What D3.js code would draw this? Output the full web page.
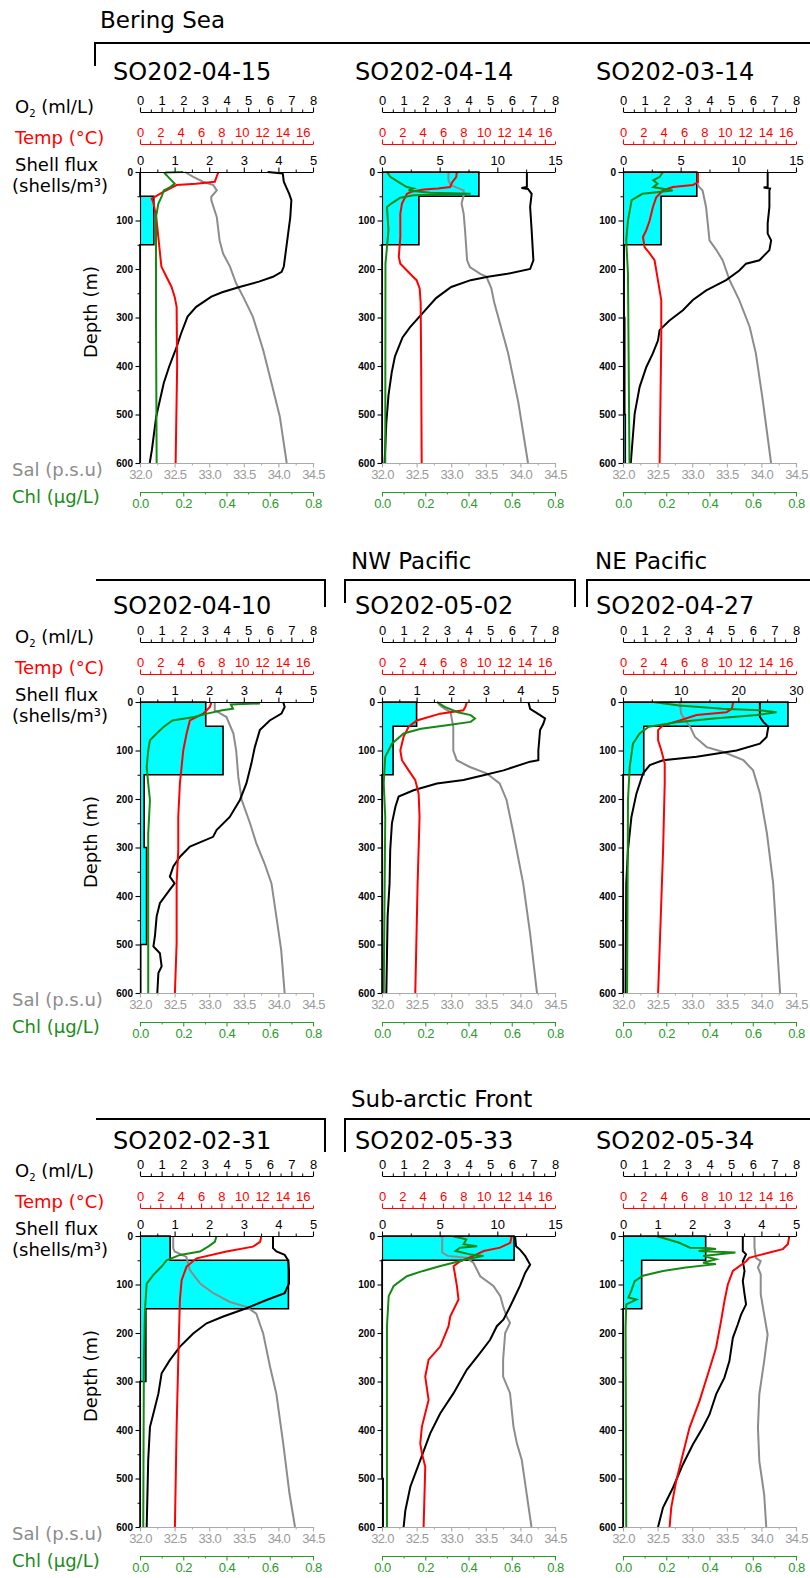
<!DOCTYPE html>
<html><head><meta charset="utf-8">
<script src="https://cdn.jsdelivr.net/npm/d3@7"></script>
<style>body{margin:0;background:#fff} svg{display:block}</style>
</head><body><svg id="c" width="810" height="1578"></svg>
<script>
// ---------------- DATA ----------------
const stations = ["SO202-04-15","SO202-04-14","SO202-03-14","SO202-04-10","SO202-05-02","SO202-04-27","SO202-02-31","SO202-05-33","SO202-05-34"];
const regions = ["Bering Sea","NW Pacific","NE Pacific","Sub-arctic Front"];
const fluxMax = [5,15,15,5,5,30,5,15,5];
const fluxDepths = [0,50,150,300,500,600];
const o2Ticks = [0,1,2,3,4,5,6,7,8];
const tempTicks = [0,2,4,6,8,10,12,14,16];
const salTicks = [32.0,32.5,33.0,33.5,34.0,34.5];
const chlTicks = [0.0,0.2,0.4,0.6,0.8];
const depthTicks = [0,100,200,300,400,500,600];

// shell flux per net (0-50, 50-150, 150-300, 300-500, 500-600 m)
const flux_0415 = [0,0.4,0,0,0];
const flux_0414 = [8.4,3.2,0,0,0];
const flux_0314 = [6.4,3.3,0.1,0.15,0.2];
const flux_0410 = [1.9,2.4,0.12,0.19,0.02];
const flux_0502 = [1.0,0.32,0,0,0];
const flux_0427 = [28.6,3.6,0,0,0];
const flux_0231 = [0.87,4.29,0.17,0,0];
const flux_0533 = [11.45,0,0,0,0.1];
const flux_0534 = [2.39,0.54,0,0,0];

// profiles: [depth m, value]
const o2_0415 = [[0,5.9],[3,6.6],[20,6.65],[30,6.75],[45,6.9],[58,7.0],[93,6.95],[127,6.85],[161,6.75],[195,6.65],[206,6.55],[216,6.15],[226,5.5],[237,4.6],[248,3.8],[257,3.3],[278,2.6],[298,2.2],[333,1.9],[360,1.7],[401,1.35],[435,1.1],[504,0.75],[573,0.55],[600,0.45]];
const temp_0415 = [[0,7.7],[20,7.35],[24,5.5],[27,3.6],[41,2.3],[55,1.15],[62,1.3],[93,1.6],[134,1.8],[195,2.1],[216,2.6],[237,3.1],[257,3.4],[278,3.6],[400,3.65],[600,3.5]];
const sal_0415 = [[0,32.65],[10,32.77],[20,32.91],[27,33.06],[38,33.11],[51,33.03],[58,33.03],[93,33.11],[141,33.15],[168,33.2],[195,33.3],[230,33.39],[257,33.49],[298,33.63],[367,33.78],[435,33.9],[504,34.02],[600,34.12]];
const chl_0415 = [[0,0.2],[1,0.12],[3,0.115],[10,0.13],[24,0.16],[31,0.14],[38,0.11],[51,0.1],[65,0.085],[93,0.074],[300,0.074],[600,0.077]];

const o2_0414 = [[0,6.7],[20,6.7],[31,6.7],[33,6.45],[35,6.75],[45,6.92],[72,6.85],[120,6.92],[182,7.0],[200,6.85],[210,5.8],[216,4.9],[223,4.1],[237,3.2],[260,2.5],[290,1.9],[320,1.3],[341,0.95],[380,0.6],[413,0.45],[460,0.3],[517,0.2],[600,0.12]];
const temp_0414 = [[0,7.35],[10,7.3],[21,6.9],[31,6.7],[34,5.5],[36,4.1],[40,3.0],[45,2.45],[65,1.96],[86,1.8],[134,1.8],[175,1.65],[189,1.8],[203,2.45],[215,3.0],[223,3.4],[240,3.7],[270,3.8],[400,3.85],[600,3.9]];
const sal_0414 = [[0,32.96],[17,32.96],[27,32.99],[38,33.18],[48,33.18],[65,33.15],[86,33.18],[120,33.2],[182,33.23],[196,33.27],[210,33.42],[216,33.51],[240,33.58],[268,33.62],[372,33.82],[475,33.97],[600,34.11]];
const chl_0414 = [[0,0.023],[10,0.038],[21,0.077],[31,0.115],[34,0.146],[38,0.123],[43,0.223],[45,0.41],[48,0.146],[53,0.085],[64,0.046],[72,0.023],[120,0.03],[155,0.023],[189,0.016],[600,0.015]];

const o2_0314 = [[0,6.69],[31,6.69],[32,6.5],[34,6.8],[38,6.77],[72,6.77],[106,6.69],[127,6.69],[141,6.85],[161,6.77],[182,6.31],[189,5.69],[203,5.38],[223,4.77],[244,3.85],[264,3.23],[285,2.77],[306,2.15],[326,1.69],[347,1.62],[374,1.38],[402,1.08],[443,0.77],[498,0.54],[600,0.36]];
const temp_0314 = [[0,7.36],[21,7.36],[27,6.87],[31,4.9],[38,3.92],[52,3.27],[72,2.94],[100,2.62],[120,2.29],[134,1.96],[155,2.12],[168,2.62],[182,3.1],[223,3.43],[264,3.76],[347,3.76],[600,3.6]];
const sal_0314 = [[0,33.08],[25,33.08],[31,33.1],[38,33.15],[72,33.2],[113,33.23],[141,33.25],[161,33.35],[182,33.44],[223,33.54],[264,33.68],[319,33.83],[374,33.92],[471,34.02],[600,34.14]];
const chl_0314 = [[0,0.185],[10,0.17],[17,0.14],[24,0.16],[31,0.14],[38,0.23],[45,0.09],[58,0.04],[100,0.023],[141,0.015],[210,0.023],[600,0.03]];

const o2_0410 = [[0,6.62],[10,6.69],[24,6.54],[38,6.0],[58,5.54],[93,5.31],[127,5.15],[168,4.92],[202,4.62],[237,4.15],[264,3.54],[278,3.38],[298,2.31],[319,1.85],[339,1.54],[360,1.38],[374,1.6],[387,1.38],[415,0.92],[442,0.77],[483,0.69],[504,0.62],[518,0.92],[545,1.0],[559,0.85],[600,0.8]];
const temp_0410 = [[0,7.03],[10,6.87],[24,6.21],[38,4.9],[65,4.58],[100,4.25],[168,3.92],[237,3.76],[305,3.76],[374,3.6],[497,3.6],[600,3.43]];
const sal_0410 = [[0,33.08],[17,33.08],[31,33.25],[65,33.35],[100,33.39],[154,33.42],[202,33.47],[250,33.59],[291,33.68],[333,33.8],[374,33.9],[442,33.97],[511,34.04],[600,34.09]];
const chl_0410 = [[0,0.55],[3,0.55],[5,0.42],[14,0.43],[17,0.38],[24,0.31],[31,0.25],[38,0.15],[51,0.11],[65,0.077],[79,0.046],[100,0.038],[134,0.031],[168,0.038],[202,0.046],[271,0.038],[600,0.038]];

const o2_0502 = [[0,6.77],[14,6.85],[27,7.31],[34,7.54],[45,7.46],[58,7.31],[100,7.23],[120,7.23],[123,6.85],[141,5.62],[151,4.69],[161,3.77],[168,2.54],[182,1.46],[195,0.77],[216,0.62],[250,0.46],[305,0.38],[374,0.35],[442,0.26],[600,0.2]];
const temp_0502 = [[0,8.34],[10,8.2],[17,8.0],[24,5.72],[38,3.43],[51,2.62],[72,2.12],[100,1.8],[120,1.96],[141,2.62],[161,3.27],[189,3.6],[237,3.69],[374,3.5],[600,3.27]];
const sal_0502 = [[0,32.8],[7,32.84],[14,32.91],[21,32.99],[51,33.03],[100,33.03],[120,33.08],[134,33.27],[147,33.51],[168,33.7],[202,33.8],[271,33.9],[374,34.04],[477,34.14],[600,34.24]];
const chl_0502 = [[0,0.254],[10,0.29],[21,0.35],[27,0.41],[34,0.43],[41,0.41],[48,0.3],[55,0.18],[65,0.1],[86,0.046],[113,0.015],[168,0.008],[237,0.015],[600,0.008]];

const o2_0427 = [[0,6.33],[31,6.33],[41,6.49],[51,6.72],[72,6.64],[86,6.33],[100,5.25],[113,3.4],[120,1.85],[130,1.24],[147,0.93],[189,0.62],[237,0.39],[305,0.23],[374,0.15],[600,0.12]];
const temp_0427 = [[0,10.83],[14,10.7],[21,10.17],[27,7.22],[38,5.58],[48,3.94],[58,3.45],[79,3.45],[100,3.77],[127,4.1],[168,4.1],[305,3.94],[600,3.45]];
const sal_0427 = [[0,32.82],[24,32.84],[38,32.9],[51,32.97],[72,33.04],[93,33.21],[103,33.45],[120,33.74],[141,33.88],[189,33.98],[271,34.08],[374,34.17],[600,34.27]];
const chl_0427 = [[0,0.14],[7,0.26],[14,0.46],[17,0.63],[21,0.71],[27,0.62],[34,0.42],[41,0.26],[51,0.12],[65,0.077],[86,0.046],[134,0.031],[202,0.023],[600,0.019]];

const o2_0231 = [[0,6.15],[25,6.15],[32,6.31],[39,6.69],[50,6.85],[70,6.89],[98,6.89],[118,6.69],[132,5.85],[149,4.92],[166,3.85],[180,3.08],[201,2.46],[228,1.85],[256,1.38],[283,1.0],[325,0.85],[366,0.62],[394,0.46],[462,0.38],[600,0.31]];
const temp_0231 = [[0,11.93],[12,11.8],[22,11.1],[32,8.5],[46,5.56],[63,4.58],[91,4.09],[132,3.92],[256,3.76],[394,3.6],[600,3.43]];
const sal_0231 = [[0,32.48],[25,32.48],[32,32.5],[43,32.67],[70,32.72],[98,32.87],[118,33.06],[136,33.3],[146,33.54],[160,33.68],[201,33.78],[270,33.88],[325,33.97],[428,34.07],[531,34.16],[600,34.24]];
const chl_0231 = [[0,0.354],[12,0.346],[22,0.315],[32,0.277],[39,0.185],[50,0.123],[63,0.1],[80,0.062],[98,0.031],[153,0.023],[256,0.018],[600,0.015]];

const o2_0533 = [[0,6.15],[21,6.2],[28,6.38],[41,6.62],[59,6.85],[76,6.62],[103,6.38],[131,6.08],[152,5.85],[172,5.62],[186,5.31],[214,5.0],[241,4.54],[276,3.92],[324,3.31],[366,2.69],[407,2.23],[462,1.77],[517,1.31],[566,1.08],[600,1.0]];
const temp_0533 = [[0,12.75],[14,12.6],[24,11.6],[31,10.0],[41,8.99],[52,7.68],[62,7.03],[103,7.36],[131,7.52],[166,6.7],[186,6.54],[228,5.72],[255,4.58],[290,4.25],[324,4.48],[338,4.58],[393,3.92],[428,3.76],[448,3.92],[476,4.25],[600,4.09]];
const sal_0533 = [[0,32.87],[34,32.87],[41,32.95],[45,33.22],[55,33.32],[83,33.42],[103,33.61],[124,33.71],[145,33.75],[166,33.8],[179,33.85],[200,33.78],[255,33.75],[290,33.75],[324,33.85],[393,33.9],[428,33.95],[462,34.02],[531,34.09],[600,34.16]];
const chl_0533 = [[0,0.323],[7,0.39],[17,0.377],[21,0.44],[24,0.36],[31,0.34],[38,0.41],[41,0.47],[48,0.39],[55,0.33],[62,0.27],[72,0.19],[83,0.115],[103,0.054],[124,0.031],[186,0.023],[600,0.023]];

const o2_0534 = [[0,5.54],[31,5.54],[38,5.69],[52,5.54],[72,5.62],[93,5.54],[120,5.62],[141,5.69],[162,5.46],[182,5.31],[210,5.08],[258,4.92],[292,4.69],[326,4.31],[368,4.0],[395,3.69],[430,3.23],[471,2.77],[519,2.31],[560,1.85],[600,1.62]];
const temp_0534 = [[0,16.35],[17,16.2],[27,15.7],[34,14.4],[41,13.1],[45,12.4],[52,12.1],[72,10.8],[100,10.3],[134,9.97],[175,9.64],[230,9.15],[285,8.34],[340,7.52],[395,6.54],[450,5.88],[505,5.23],[560,4.74],[600,4.58]];
const sal_0534 = [[0,33.9],[24,33.9],[45,33.92],[52,33.99],[65,33.95],[79,33.99],[120,33.99],[162,34.04],[203,34.09],[258,34.04],[326,33.97],[395,33.95],[464,33.97],[533,34.04],[600,34.07]];
const chl_0534 = [[0,0.154],[14,0.26],[24,0.31],[25,0.4],[27,0.43],[31,0.35],[34,0.52],[41,0.37],[48,0.43],[55,0.37],[58,0.43],[65,0.29],[72,0.185],[82,0.092],[93,0.054],[113,0.038],[127,0.025],[131,0.062],[141,0.015],[189,0.012],[600,0.015]];

const fluxes = [flux_0415,flux_0414,flux_0314,flux_0410,flux_0502,flux_0427,flux_0231,flux_0533,flux_0534];
const o2s = [o2_0415,o2_0414,o2_0314,o2_0410,o2_0502,o2_0427,o2_0231,o2_0533,o2_0534];
const temps = [temp_0415,temp_0414,temp_0314,temp_0410,temp_0502,temp_0427,temp_0231,temp_0533,temp_0534];
const sals = [sal_0415,sal_0414,sal_0314,sal_0410,sal_0502,sal_0427,sal_0231,sal_0533,sal_0534];
const chls = [chl_0415,chl_0414,chl_0314,chl_0410,chl_0502,chl_0427,chl_0231,chl_0533,chl_0534];

// ---------------- LAYOUT ----------------
const svg = d3.select('#c');
const colX = [140,382,623], rowY = [172,702,1236], W = 173, H = 291;
const titleY = [80,614,1149];
const tickFont = "'Liberation Sans Narrow','Arial Narrow','Liberation Sans',Arial,sans-serif";
const labFont = "'DejaVu Sans',Verdana,sans-serif";
const RED = '#ff0000', GREEN = '#138a13', GRAY = '#8c8c8c', SALTXT = '#9a9a9a';

function drawAxis(g, axisFn, scale, major, minorStep, fmt, color, size, font, bold) {
  const [a, b] = scale.domain();
  const minor = d3.range(a, b + 1e-9, minorStep).filter(v => !major.some(m => Math.abs(m - v) < 1e-9));
  const gm = g.append('g').call(axisFn(scale).tickValues(minor).tickFormat('').tickSize(2.5).tickSizeOuter(0));
  gm.select('.domain').remove();
  gm.attr('color', color);
  const ga = g.append('g').call(axisFn(scale).tickValues(major).tickFormat(fmt).tickSize(4.5).tickSizeOuter(0).tickPadding(2.5));
  ga.attr('color', color).attr('font-family', font).attr('font-size', size);
  if (bold) ga.attr('font-weight', 'bold');
  ga.selectAll('path,line').attr('stroke-width', 1.1);
  gm.selectAll('line').attr('stroke-width', 1);
  return ga;
}

stations.forEach((st, i) => {
  const r = Math.floor(i / 3), c = i % 3;
  const x0 = colX[c], y0 = rowY[r];
  const g = svg.append('g').attr('transform', `translate(${x0},${y0})`);
  const y = d3.scaleLinear().domain([0, 600]).range([0, H]);
  const xO = d3.scaleLinear().domain([0, 8]).range([0, W]);
  const xT = d3.scaleLinear().domain([0, 17]).range([0, W]);
  const xF = d3.scaleLinear().domain([0, fluxMax[i]]).range([0, W]);
  const xS = d3.scaleLinear().domain([32, 34.5]).range([0, W]);
  const xC = d3.scaleLinear().domain([0, 0.8]).range([0, W]);

  // title
  svg.append('text').attr('x', x0 - 27).attr('y', titleY[r]).text(st)
    .attr('font-family', labFont).attr('font-size', 24).attr('fill', '#000');

  // shell flux bars (step)
  const f = fluxes[i];
  const pts = [[0, 0]];
  f.forEach((v, k) => { pts.push([v, fluxDepths[k]]); pts.push([v, fluxDepths[k + 1]]); });
  const stepLine = d3.line().x(d => xF(d[0])).y(d => y(d[1]));
  g.append('path').attr('d', stepLine(pts.concat([[0, 600]])) + 'Z').attr('fill', '#00ffff').attr('stroke', 'none');
  g.append('path').attr('d', stepLine(pts)).attr('fill', 'none').attr('stroke', '#000').attr('stroke-width', 1.6);

  // profiles
  const mk = (sx) => d3.line().x(d => sx(d[1])).y(d => y(d[0]));
  g.append('path').attr('d', mk(xS)(sals[i])).attr('fill', 'none').attr('stroke', GRAY).attr('stroke-width', 2);
  g.append('path').attr('d', mk(xO)(o2s[i])).attr('fill', 'none').attr('stroke', '#000').attr('stroke-width', 2);
  g.append('path').attr('d', mk(xT)(temps[i])).attr('fill', 'none').attr('stroke', RED).attr('stroke-width', 2);
  g.append('path').attr('d', mk(xC)(chls[i])).attr('fill', 'none').attr('stroke', GREEN).attr('stroke-width', 2);

  // axes
  const gO = g.append('g').attr('transform', 'translate(0,-60)');
  drawAxis(gO, d3.axisTop, xO, o2Ticks, 0.5, d3.format('d'), '#000', 13, tickFont);
  const gT = g.append('g').attr('transform', 'translate(0,-28)');
  drawAxis(gT, d3.axisTop, xT, tempTicks, 1, d3.format('d'), RED, 13, tickFont);
  const fm = fluxMax[i];
  const fMajor = fm === 5 ? [0,1,2,3,4,5] : fm === 15 ? [0,5,10,15] : [0,10,20,30];
  const fMinor = fm === 5 ? 0.5 : fm === 15 ? 2.5 : 5;
  drawAxis(g.append('g'), d3.axisTop, xF, fMajor, fMinor, d3.format('d'), '#000', 13, tickFont);
  drawAxis(g.append('g'), d3.axisLeft, y, depthTicks, 50, d3.format('d'), '#000', 10, "'Liberation Sans',Arial,sans-serif", true);
  const gS = g.append('g').attr('transform', `translate(0,${H})`);
  const sa = drawAxis(gS, d3.axisBottom, xS, salTicks, 0.25, d3.format('.1f'), '#aaa', 13, tickFont);
  sa.selectAll('text').attr('fill', SALTXT).attr('letter-spacing', '-0.7');
  const gC = g.append('g').attr('transform', `translate(0,${H + 29})`);
  const ca = drawAxis(gC, d3.axisBottom, xC, chlTicks, 0.1, d3.format('.1f'), '#2a9a2a', 13, tickFont);
  ca.selectAll('text').attr('letter-spacing', '-0.5');
});

// left-side labels
rowY.forEach((y0, r) => {
  const L = svg.append('g').attr('font-family', labFont).attr('font-size', 18);
  const o = L.append('text').attr('x', 15).attr('y', y0 - 59).attr('fill', '#000');
  o.append('tspan').text('O');
  o.append('tspan').text('2').attr('font-size', 10).attr('dy', 4);
  o.append('tspan').text(' (ml/L)').attr('dy', -4);
  L.append('text').attr('x', 15).attr('y', y0 - 28).attr('fill', RED).text('Temp (°C)');
  L.append('text').attr('x', 15).attr('y', y0 - 1).attr('fill', '#000').text('Shell flux');
  L.append('text').attr('x', 12).attr('y', y0 + 20).attr('fill', '#000').text('(shells/m³)');
  L.append('text').attr('x', 12).attr('y', y0 + H + 13).attr('fill', GRAY).text('Sal (p.s.u)');
  L.append('text').attr('x', 12).attr('y', y0 + H + 40).attr('fill', '#1a8c1a').text('Chl (µg/L)');
  L.append('text').attr('transform', `translate(97,${y0 + 140}) rotate(-90)`).attr('text-anchor', 'middle')
    .attr('fill', '#000').text('Depth (m)');
});

// region labels and brackets
const regPos = [[100, 28], [351, 569], [595, 569], [351, 1107]];
regions.forEach((t, k) => {
  svg.append('text').attr('x', regPos[k][0]).attr('y', regPos[k][1]).text(t)
    .attr('font-family', labFont).attr('font-size', 23).attr('fill', '#000');
});
const brackets = [
  [[95, 66], [95, 43], [810, 43]],
  [[96, 580], [325, 580], [325, 607]],
  [[345, 603], [345, 580], [575, 580], [575, 607]],
  [[587, 607], [587, 580], [812, 580]],
  [[96, 1119], [325, 1119], [325, 1152]],
  [[345, 1152], [345, 1119], [812, 1119]]
];
brackets.forEach(b => {
  svg.append('path').attr('d', d3.line()(b)).attr('fill', 'none').attr('stroke', '#000').attr('stroke-width', 2);
});
</script></body></html>
